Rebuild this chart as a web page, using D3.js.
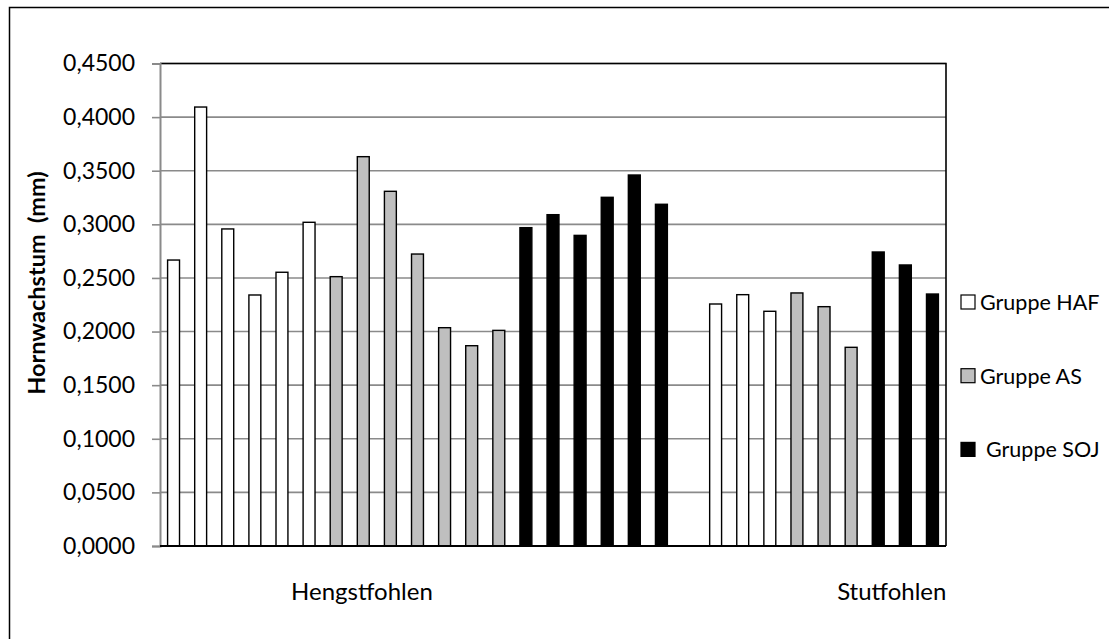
<!DOCTYPE html>
<html>
<head>
<meta charset="utf-8">
<script src="https://cdn.jsdelivr.net/npm/d3@7"></script>
<style>
  body { margin: 0; background: #fff; }
  text { font-family: Lato, "Open Sans", sans-serif; fill: #000; }
</style>
</head>
<body>
<div id="chart"></div>
<script>
// categories and groups
var categories = ["Hengstfohlen", "Stutfohlen"];
var groups = ["Gruppe HAF", "Gruppe AS", "Gruppe SOJ"];

// hornwachstum per foal (mm)
var hengstHAF = [0.2667, 0.4094, 0.2957, 0.2341, 0.2553, 0.3019];
var hengstAS = [0.2512, 0.3631, 0.3308, 0.2723, 0.2036, 0.1868, 0.2011];
var hengstSOJ = [0.2969, 0.3090, 0.2897, 0.3252, 0.3460, 0.3187];
var stutHAF = [0.2257, 0.2344, 0.2189];
var stutAS = [0.2360, 0.2232, 0.1853];
var stutSOJ = [0.2742, 0.2621, 0.2350];

var yTicks = [0, 0.05, 0.10, 0.15, 0.20, 0.25, 0.30, 0.35, 0.40, 0.45];

var width = 1109, height = 639;
var plot = { left: 160, right: 946, top: 63.5, bottom: 546 };

var colour = d3.scaleOrdinal().domain(groups).range(["#ffffff", "#bfbfbf", "#000000"]);

// build slots: bars of each category, one empty slot between categories
var perCategory = [
    [hengstHAF, hengstAS, hengstSOJ],
    [stutHAF, stutAS, stutSOJ]
];
var bars = [];
var slot = 0;
perCategory.forEach(function (series, ci) {
    if (ci > 0) slot++;
    series.forEach(function (vals, gi) {
        vals.forEach(function (v) {
            bars.push({ slot: slot, group: groups[gi], value: v, category: categories[ci] });
            slot++;
        });
    });
});
var nSlots = slot;

var x = d3.scaleBand()
    .domain(d3.range(nSlots))
    .range([plot.left, plot.right])
    .paddingInner(0.56)
    .paddingOuter(0.28);
var slotPos = d3.scaleLinear().domain([0, nSlots]).range([plot.left, plot.right]);
var y = d3.scaleLinear().domain([0, 0.45]).range([plot.bottom, plot.top]);

var locale = d3.formatLocale({ decimal: ",", thousands: ".", grouping: [3], currency: ["", " €"] });
var fmt = locale.format(".4f");

var svg = d3.select("#chart").append("svg")
    .attr("width", width)
    .attr("height", height);

// outer chart border (right and bottom edges fall outside the picture)
svg.append("rect")
    .attr("x", 9.5).attr("y", 7.5)
    .attr("width", 1110).attr("height", 650)
    .attr("fill", "none")
    .attr("stroke", "#000")
    .attr("stroke-width", 1.5);

// gridlines
svg.append("g")
    .selectAll("line")
    .data(yTicks.slice(1))
    .enter()
    .append("line")
    .attr("x1", plot.left).attr("x2", plot.right)
    .attr("y1", function (d) { return y(d); })
    .attr("y2", function (d) { return y(d); })
    .attr("stroke", "#8a8a8a")
    .attr("stroke-width", 1.6);

// plot frame top / right
svg.append("path")
    .attr("d", "M" + plot.left + "," + y(0.45) + "H" + plot.right + "V" + plot.bottom)
    .attr("fill", "none")
    .attr("stroke", "#000")
    .attr("stroke-width", 1.6);

// y axis
var yAxis = svg.append("g")
    .attr("transform", "translate(" + plot.left + ",0)")
    .call(d3.axisLeft(y).tickValues(yTicks).tickFormat(fmt).tickSize(8).tickPadding(17));
yAxis.select(".domain").attr("stroke", "#8a8a8a").attr("stroke-width", 2);
yAxis.selectAll(".tick line").attr("stroke", "#8a8a8a").attr("stroke-width", 1.6);
yAxis.selectAll(".tick text")
    .style("font-family", "Lato, sans-serif")
    .style("font-size", "23px")
    .attr("fill", "#000");

// bars
svg.append("g")
    .selectAll("rect")
    .data(bars)
    .enter()
    .append("rect")
    .attr("x", function (d) { return x(d.slot); })
    .attr("width", x.bandwidth())
    .attr("y", function (d) { return y(d.value); })
    .attr("height", function (d) { return y(0) - y(d.value); })
    .attr("fill", function (d) { return colour(d.group); })
    .attr("stroke", "#000")
    .attr("stroke-width", 1.4);

// x axis baseline
svg.append("line")
    .attr("x1", plot.left).attr("x2", plot.right)
    .attr("y1", plot.bottom).attr("y2", plot.bottom)
    .attr("stroke", "#000")
    .attr("stroke-width", 2);

// category labels
var labelSlots = [7.45, 27.0];
svg.append("g")
    .selectAll("text")
    .data(categories)
    .enter()
    .append("text")
    .attr("x", function (d, i) { return slotPos(labelSlots[i]); })
    .attr("y", 600)
    .attr("text-anchor", "middle")
    .style("font-size", "24px")
    .text(function (d) { return d; });

// y axis title
svg.append("text")
    .attr("transform", "translate(45,283) rotate(-90)")
    .attr("text-anchor", "middle")
    .style("font-size", "23.5px")
    .style("font-weight", "bold")
    .style("white-space", "pre")
    .text("Hornwachstum  (mm)");

// legend
var legendSize = 14;
var legend = svg.selectAll(".legend")
    .data(groups)
    .enter()
    .append("g")
    .attr("class", "legend")
    .attr("transform", function (d, i) {
        return "translate(961," + (302 + i * 73.7) + ")";
    });

legend.append("rect")
    .attr("x", 0)
    .attr("y", -legendSize / 2)
    .attr("width", legendSize)
    .attr("height", legendSize)
    .attr("fill", colour)
    .attr("stroke", "#000")
    .attr("stroke-width", 1.2);

legend.append("text")
    .attr("x", function (d, i) { return i === 2 ? 25 : 19; })
    .attr("y", 8)
    .style("font-size", "21.5px")
    .text(function (d) { return d; });
</script>
</body>
</html>
